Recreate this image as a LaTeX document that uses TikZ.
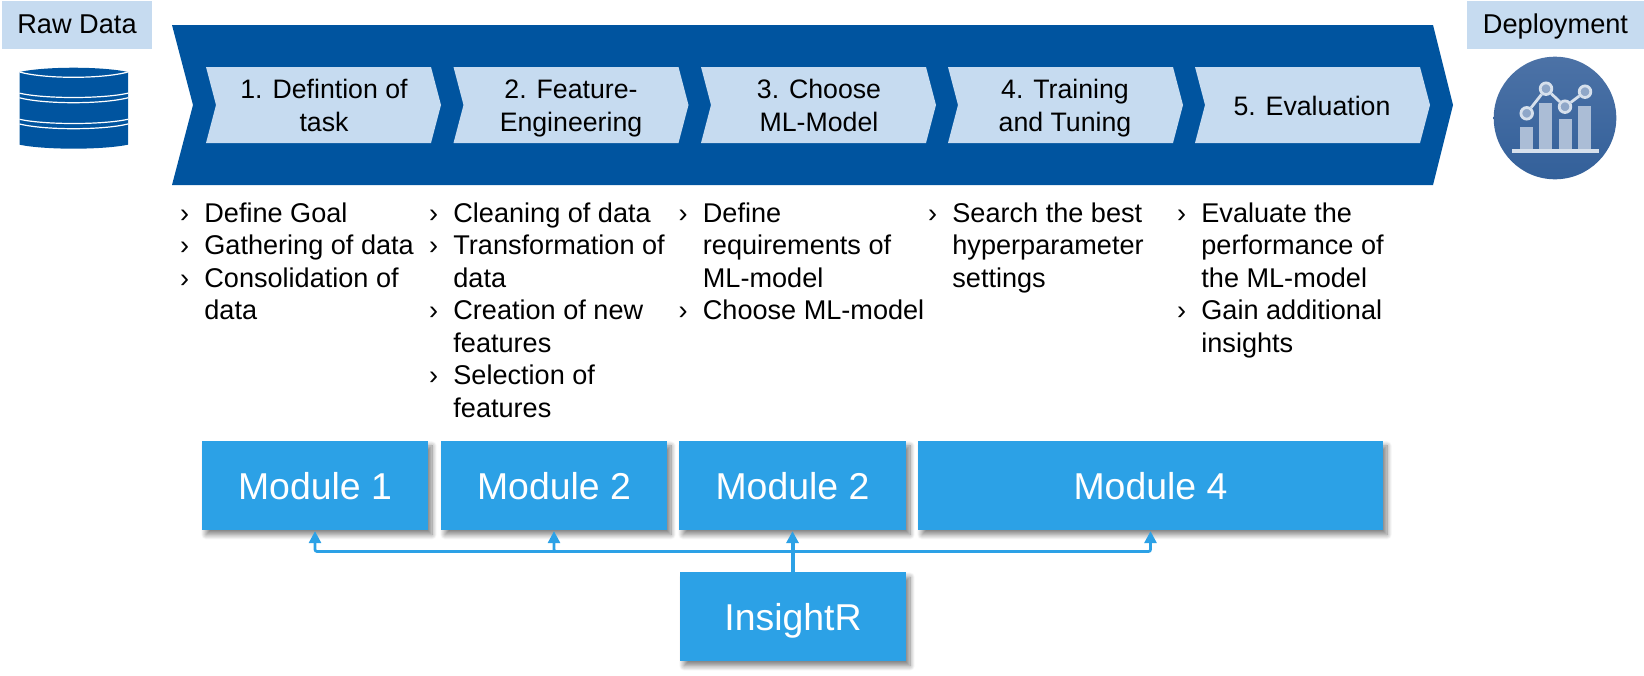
\documentclass[tikz,border=0pt]{standalone}
\usepackage{fontspec}
\setmainfont{Liberation Sans}
\usetikzlibrary{arrows.meta,shadows.blur}
\definecolor{dkblue}{RGB}{0,84,159}
\definecolor{ltblue}{RGB}{198,219,240}
\definecolor{modblue}{RGB}{44,161,230}
\definecolor{chartring}{RGB}{214,224,236}
\definecolor{chartdotc}{RGB}{143,167,200}
\definecolor{chartbar}{RGB}{171,189,214}
\definecolor{circtop}{RGB}{76,114,166}
\definecolor{circbot}{RGB}{51,96,154}
\newcommand{\bl}{\llap{›\hspace{7.6pt}}}
\tikzset{
  px/.style={x=0.5pt,y=-0.5pt},
  header/.style={fill=ltblue,inner sep=0,text=black,font=\fontsize{13.6}{16}\selectfont,minimum height=24pt,text height=10pt,text depth=1.7pt},
  steptext/.style={inner sep=0,align=center,text=black,font=\fontsize{13.35}{16.25}\selectfont},
  listtext/.style={anchor=north west,inner sep=0,align=left,text=black,font=\fontsize{13.55}{16.25}\selectfont},
  modulebox/.style={fill=modblue,inner sep=0,text=white,minimum height=44.4pt,text height=14pt,text depth=0.3pt,font=\fontsize{18.7}{21}\selectfont,
    blur shadow={shadow xshift=2pt,shadow yshift=-2.5pt,shadow blur radius=2.5pt,shadow blur steps=10,shadow opacity=50}},
  conn/.style={draw=modblue,line width=1.35pt,rounded corners=1pt},
  tip/.style={{Triangle[width=6pt,length=6pt]}-,shorten <=0.5pt},
  dbline/.style={draw=white,line width=0.6pt},
  chartline/.style={draw=chartring,line width=1.4pt},
  chartdot/.style={circle,draw=chartring,fill=chartdotc,line width=1.4pt,minimum size=5.8pt,inner sep=0},
}
\newcommand{\stepshape}[1]{\fill[ltblue] (#1,67)--++(225,0)--++(10,38)--++(-10,38)--++(-225,0)--++(10,-38)--cycle;}
\newcommand{\dbarc}[2]{\draw[dbline] (19.5,#1) .. controls (45,{#2+(#2-#1)/3}) and (102,{#2+(#2-#1)/3}) .. (128,#1);}
\begin{document}
\begin{tikzpicture}[px]
\useasboundingbox (0,0) rectangle (1644,675);
% headers
\node[header,minimum width=75pt] (raw) at (77,25) {Raw Data};
\node[header,minimum width=88.5pt] (dep) at (1555.5,25) {Deployment};
% database icon
\fill[dkblue] (19.5,72) .. controls (45,66.3) and (102,66.3) .. (128,72) -- (128,144.7) .. controls (102,150) and (45,150) .. (19.5,144.7) -- cycle;
\dbarc{72}{77.3}
\dbarc{93.2}{97.5}
\dbarc{97.8}{102.7}
\dbarc{119.3}{123.5}
\dbarc{124}{128.7}
% main chevron
\fill[dkblue] (172,25) -- (1433,25) -- (1453,105) -- (1433,185) -- (172,185) -- (193,105) -- cycle;
\stepshape{206}
\stepshape{453.5}
\stepshape{701}
\stepshape{948}
\stepshape{1195}
\node[steptext] (s1) at (324,108.7) {\strut 1. Defintion of\\task\strut};
\node[steptext] (s2) at (571,108.7) {\strut 2. Feature-\\Engineering\strut};
\node[steptext] (s3) at (819,108.7) {\strut 3. Choose\\ML-Model\strut};
\node[steptext] (s4) at (1065,108.7) {\strut 4. Training\\and Tuning\strut};
\node[steptext] (s5) at (1312,108.7) {\strut 5. Evaluation};
% lists
\node[listtext] (l1) at (204,202) {\bl Define Goal\\\bl Gathering of data\\\bl Consolidation of\\data};
\node[listtext] (l2) at (453,202) {\bl Cleaning of data\\\bl Transformation of\\data\\\bl Creation of new\\features\\\bl Selection of\\features};
\node[listtext] (l3) at (702.5,202) {\bl Define\\requirements of\\ML-model\\\bl Choose ML-model};
\node[listtext] (l4) at (952,202) {\bl Search the best\\hyperparameter\\settings};
\node[listtext] (l5) at (1201,202) {\bl Evaluate the\\performance of\\the ML-model\\\bl Gain additional\\insights};
% modules
\node[modulebox,minimum width=113pt] (m1) at (315,485.3) {Module 1};
\node[modulebox,minimum width=113pt] (m2) at (554,485.3) {Module 2};
\node[modulebox,minimum width=113.5pt] (m3) at (792.5,485.3) {Module 2};
\node[modulebox,minimum width=232.5pt] (m4) at (1150.5,485.3) {Module 4};
\node[modulebox,minimum width=113pt] (ins) at (793,616.5) {InsightR};
% connectors
\coordinate (bus) at (792.5,551.5);
\draw[conn,tip] (m1.south) |- (bus);
\draw[conn,tip] (m2.south) |- (bus);
\draw[conn,tip] (m4.south) |- (bus);
\draw[conn,tip,line width=2pt] (m3.south) -- (ins.north -| m3.south);
% deployment icon
\shade[top color=circtop,bottom color=circbot] (1555,118) circle[radius=61.3];
\fill[chartbar] (1520,127.3) rectangle (1533,149);
\fill[chartbar] (1539.3,103.3) rectangle (1552,149);
\fill[chartbar] (1558.7,119.3) rectangle (1571.7,149);
\fill[chartbar] (1577.7,106.3) rectangle (1590.7,149);
\fill[chartring] (1511.7,148.7) rectangle (1599,153);
\node[chartdot] (d1) at (1526.7,113.3) {};
\node[chartdot] (d2) at (1546,88.7) {};
\node[chartdot] (d3) at (1565,106.7) {};
\node[chartdot] (d4) at (1585,91.7) {};
\draw[chartline] (d1) -- (d2);
\draw[chartline] (d2) -- (d3);
\draw[chartline] (d3) -- (d4);
\end{tikzpicture}
\end{document}
